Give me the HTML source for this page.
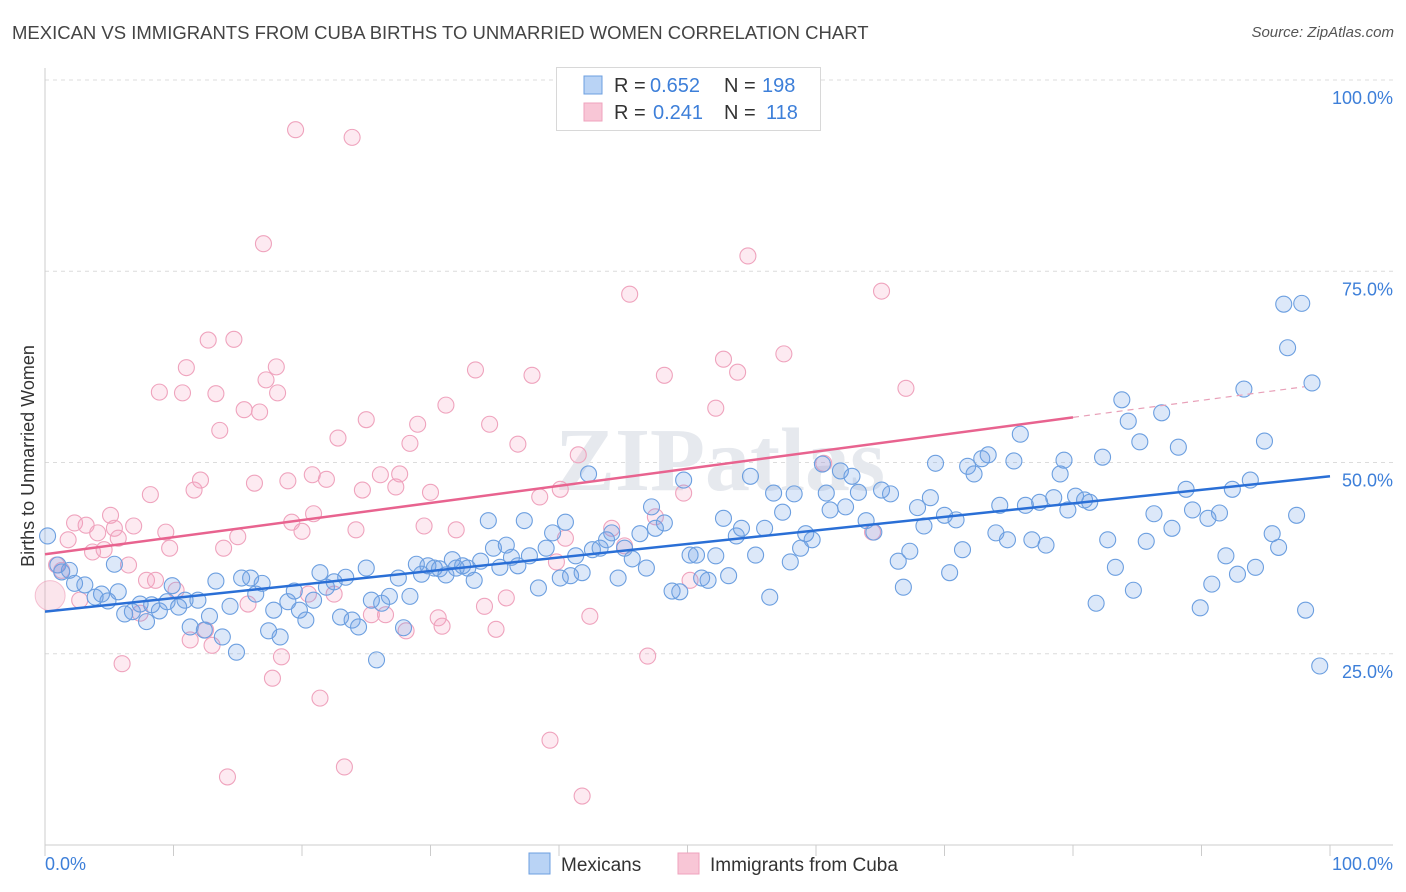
<!DOCTYPE html>
<html><head><meta charset="utf-8">
<style>
body{margin:0;background:#fff;font-family:"Liberation Sans",sans-serif;}
#wrap{position:relative;width:1406px;height:892px;overflow:hidden;}
.title{position:absolute;left:12px;top:22px;font-size:18.5px;color:#444;}
.source{position:absolute;right:12px;top:24px;font-size:15px;color:#555;font-style:italic;}
</style></head>
<body>
<div id="wrap">
<div class="title">MEXICAN VS IMMIGRANTS FROM CUBA BIRTHS TO UNMARRIED WOMEN CORRELATION CHART</div>
<div class="source">Source: ZipAtlas.com</div>
<svg id="chart" width="1406" height="892" style="position:absolute;left:0;top:0"></svg>
</div>
<script>
const blueX=[0.2,1.0,1.3,1.9,2.3,3.1,3.9,4.4,4.9,5.4,5.7,6.2,6.8,7.4,7.9,8.3,8.9,9.5,9.9,10.4,10.9,11.3,11.9,12.4,12.8,13.3,13.8,14.4,14.9,15.3,16.0,16.4,16.9,17.4,17.8,18.3,18.9,19.4,19.8,20.3,20.9,21.4,21.9,22.5,23.0,23.4,23.9,24.4,25.0,25.4,25.8,26.2,26.8,27.5,27.9,28.4,28.9,29.3,29.8,30.3,30.7,31.2,31.7,32.0,32.5,32.9,33.4,33.9,34.5,34.9,35.4,35.9,36.3,36.8,37.3,37.7,38.4,39.0,39.5,40.1,40.5,40.9,41.3,41.8,42.3,42.6,43.2,43.7,44.1,44.6,45.1,45.7,46.3,46.8,47.2,47.5,48.2,48.8,49.4,49.7,50.2,50.7,51.1,51.6,52.2,52.8,53.2,53.8,54.2,54.9,55.3,56.0,56.4,56.7,57.4,58.0,58.3,58.8,59.2,59.7,60.5,60.8,61.1,61.9,62.3,62.8,63.3,63.9,64.5,65.1,65.8,66.4,66.8,67.3,67.9,68.4,68.9,69.3,70.0,70.4,70.9,71.4,71.8,72.3,72.9,73.4,74.0,74.3,74.9,75.4,75.9,76.3,76.8,77.4,77.9,78.5,79.0,79.3,79.6,80.2,80.9,81.3,81.8,82.3,82.7,83.3,83.8,84.3,84.7,85.2,85.7,86.3,86.9,87.7,88.2,88.8,89.3,89.9,90.5,90.8,91.4,91.9,92.4,92.8,93.3,93.8,94.2,94.9,95.5,96.0,96.4,96.7,97.4,97.8,98.1,98.6,99.2];
const blueY=[40.4,36.6,35.7,35.9,34.2,34.0,32.4,32.8,31.9,36.7,33.1,30.2,30.5,31.5,29.2,31.4,30.6,31.8,33.9,31.1,32.0,28.5,32.0,28.1,29.9,34.5,27.2,31.2,25.2,34.9,34.9,32.8,34.2,28.0,30.7,27.2,31.8,33.2,30.7,29.4,32.0,35.6,33.7,34.4,29.8,35.0,29.4,28.5,36.2,32.0,24.2,31.6,32.5,34.9,28.4,32.5,36.7,35.4,36.5,36.2,36.1,35.3,37.3,36.2,36.5,36.2,34.6,37.1,42.4,38.8,36.3,39.2,37.6,36.5,42.4,37.8,33.6,38.8,40.8,34.9,42.2,35.2,37.8,35.6,48.5,38.6,38.8,39.9,40.8,34.9,38.8,37.4,40.7,36.2,44.2,41.4,42.1,33.2,33.1,47.7,37.9,37.9,34.9,34.6,37.8,42.7,35.2,40.4,41.4,48.2,37.9,41.4,32.4,46.0,43.5,37.0,45.9,38.8,40.7,39.9,49.8,46.0,43.8,48.9,44.2,48.2,46.1,42.4,40.9,46.4,45.9,37.1,33.7,38.4,44.1,41.7,45.4,49.9,43.1,35.6,42.5,38.6,49.5,48.5,50.5,51.0,40.8,44.4,39.9,50.2,53.7,44.4,39.9,44.8,39.2,45.4,48.5,50.3,43.8,45.6,45.1,44.8,31.6,50.7,39.9,36.3,58.2,55.4,33.3,52.7,39.7,43.3,56.5,41.4,52.0,46.5,43.8,31.0,42.7,34.1,43.4,37.8,46.5,35.4,59.6,47.7,36.3,52.8,40.7,38.9,70.7,65.0,43.1,70.8,30.7,60.4,23.4];
const pinkX=[0.9,1.3,1.8,2.3,2.7,3.2,3.7,4.1,4.6,5.1,5.4,5.7,6.0,6.5,6.9,7.4,7.9,8.2,8.6,8.9,9.4,9.7,10.2,10.7,11.0,11.3,11.6,12.1,12.5,12.7,13.0,13.3,13.6,13.9,14.2,14.7,15.0,15.5,15.8,16.3,16.7,17.0,17.2,17.7,18.0,18.1,18.4,18.9,19.2,19.5,20.0,20.5,20.8,20.9,21.4,21.9,22.5,22.8,23.3,23.9,24.2,24.7,25.0,25.4,26.1,26.5,27.3,27.6,28.1,28.4,29.0,29.5,30.0,30.6,30.9,31.2,32.0,33.5,34.2,34.6,35.1,35.9,36.8,37.9,38.5,39.3,39.8,40.1,40.5,41.5,41.8,42.4,44.1,45.1,45.5,46.9,47.5,48.2,49.7,50.2,52.2,52.8,53.9,54.7,57.5,60.6,64.4,65.1,67.0];
const pinkY=[36.6,35.9,39.9,42.1,32.0,41.8,38.3,40.8,38.6,43.1,41.4,40.1,23.7,36.6,41.7,30.3,34.6,45.8,34.6,59.2,40.9,38.8,33.3,59.1,62.4,26.8,46.4,47.7,28.1,66.0,26.1,59.0,54.2,38.8,8.9,66.1,40.3,56.9,31.5,47.3,56.6,78.6,60.8,21.8,62.5,59.1,24.6,47.6,42.2,93.5,41.0,32.8,48.4,43.3,19.2,47.8,32.8,53.2,10.2,92.5,41.2,46.4,55.6,30.1,48.4,30.1,46.8,48.5,28.0,52.5,55.0,41.7,46.1,29.7,28.6,57.5,41.2,62.1,31.2,55.0,28.2,32.3,52.4,61.4,45.5,13.7,37.0,46.5,40.1,51.0,6.4,29.9,41.4,39.1,72.0,24.7,42.9,61.4,46.0,34.6,57.1,63.5,61.8,77.0,64.2,49.9,40.9,72.4,59.7];
const yTicks=[25,50,75,100];
const yTickLabels=["25.0%","50.0%","75.0%","100.0%"];
const xTicks=[0,10,20,30,40,50,60,70,80,90,100];
const blueTrend=[30.5,48.2];
const pinkTrend=[38.0,55.9,59.9];
const legendR=["0.652","0.241"], legendN=["198","118"];

const L=45,R=1330,T=80,B=845;
const sx=v=>L+(R-L)*v/100;
const sy=v=>B-(B-T)*v/100;
const svg=document.getElementById('chart');
const NS="http://www.w3.org/2000/svg";
function mk(tag,attrs,parent){const e=document.createElementNS(NS,tag);for(const k in attrs)e.setAttribute(k,attrs[k]);(parent||svg).appendChild(e);return e;}

yTicks.forEach((t,i)=>{
  const g=mk('line',{x1:L,x2:1393,y1:sy(t),y2:sy(t),stroke:'#dcdcdc','stroke-dasharray':'4,4','stroke-width':1});
  
  
  const tx=mk('text',{x:1393,y:sy(t)+24,'text-anchor':'end','font-size':18,fill:'#3d7fd9','font-family':'Liberation Sans, sans-serif'});
  tx.textContent=yTickLabels[i];
  
  
});
const ya=mk('line',{x1:L,x2:L,y1:68,y2:B,stroke:'#cccccc','stroke-width':1});


const xa=mk('line',{x1:L,x2:1393,y1:B,y2:B,stroke:'#cccccc','stroke-width':1});


xTicks.forEach(t=>{
  const k=mk('line',{x1:sx(t),x2:sx(t),y1:B,y2:B+11,stroke:'#cccccc','stroke-width':1});
  
  
});
const wm=mk('text',{x:720,y:490,'text-anchor':'middle','font-size':90,fill:'#e6e9ee','font-family':'Liberation Serif, serif','font-weight':'bold'});
wm.textContent="ZIPatlas";



const big=mk('circle',{cx:sx(0.4),cy:sy(32.6),r:15,fill:'rgba(240,150,180,0.25)',stroke:'rgba(236,140,172,0.5)','stroke-width':1});


pinkX.forEach((x,i)=>{
  const c=mk('circle',{cx:sx(x),cy:sy(pinkY[i]),r:8,fill:'rgba(244,160,190,0.22)',stroke:'#efa3bd','stroke-width':1.1});
  
  
});
blueX.forEach((x,i)=>{
  const c=mk('circle',{cx:sx(x),cy:sy(blueY[i]),r:8,fill:'rgba(110,160,230,0.24)',stroke:'#6c9fe0','stroke-width':1.1});
  
  
});
const bt=mk('line',{x1:sx(0),y1:sy(blueTrend[0]),x2:sx(100),y2:sy(blueTrend[1]),stroke:'#2a6fd6','stroke-width':2.5});


const pt=mk('line',{x1:sx(0),y1:sy(pinkTrend[0]),x2:sx(80),y2:sy(pinkTrend[1]),stroke:'#e8638f','stroke-width':2.5});


const pd=mk('line',{x1:sx(80),y1:sy(pinkTrend[1]),x2:sx(98),y2:sy(pinkTrend[2]),stroke:'#e8a0b8','stroke-width':1.2,'stroke-dasharray':'6,5'});



const x0=mk('text',{x:45,y:870,'font-size':18,fill:'#3d7fd9','font-family':'Liberation Sans, sans-serif'});
x0.textContent="0.0%";


const x1=mk('text',{x:1393,y:870,'text-anchor':'end','font-size':18,fill:'#3d7fd9','font-family':'Liberation Sans, sans-serif'});
x1.textContent="100.0%";


const yt=mk('text',{x:34,y:456,'text-anchor':'middle','font-size':18,fill:'#333','font-family':'Liberation Sans, sans-serif',transform:'rotate(-90 34 456)'});
yt.textContent="Births to Unmarried Women";



const lb=mk('rect',{x:556.5,y:67.5,width:264,height:63,fill:'#fff',stroke:'#d8d8d8'});


[['#b9d3f5','#6c9fe0'],['#f8c6d6','#efa3bd']].forEach((c,i)=>{
  const y=76+i*27;
  const s=mk('rect',{x:584,y:y,width:18,height:18,fill:c[0],stroke:c[1]});
  
  
  const t=mk('text',{x:614,y:y+16,'font-size':20,fill:'#333','font-family':'Liberation Sans, sans-serif'});
  t.innerHTML='R = <tspan x="'+(i?653:650)+'" fill="#3d7fd9">'+legendR[i]+'</tspan><tspan x="'+(i?724:724)+'">N = </tspan><tspan x="'+(i?766:762)+'" fill="#3d7fd9">'+legendN[i]+'</tspan>';
  
  
});

[['#b9d3f5','#6c9fe0','Mexicans',529],['#f8c6d6','#efa3bd','Immigrants from Cuba',678]].forEach((c,i)=>{
  const s=mk('rect',{x:c[3],y:853,width:21,height:21,fill:c[0],stroke:c[1]});
  
  
  const t=mk('text',{x:c[3]+32,y:871,'font-size':19,fill:'#333','font-family':'Liberation Sans, sans-serif'});
  t.textContent=c[2];
  
  
});
</script>
</body></html>
